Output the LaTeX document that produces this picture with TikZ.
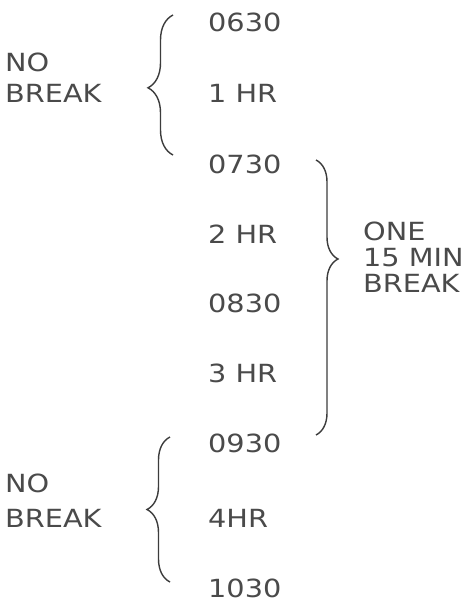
\documentclass[tikz,border=0pt]{standalone}
\usepackage{fontspec}
\setmainfont[FakeStretch=1.15]{DejaVu Sans}
\usetikzlibrary{decorations.pathreplacing}
\definecolor{txt}{HTML}{4A4A4A}
\definecolor{brc}{HTML}{3C3C3C}
\begin{document}
\begin{tikzpicture}[x=1pt,y=-1pt,
  lbl/.style={anchor=base west,inner sep=0pt,text=txt,font=\fontsize{25}{#1}\selectfont,align=left},
  lbl/.default=31,
  brc/.style={draw=brc,line width=1.4pt,decorate,decoration={brace,amplitude=#1}}]
\useasboundingbox[fill=white] (0,0) rectangle (467,605);
% time column
\node[lbl] (t0630) at (208,31) {0630};
\node[lbl] (h1) at (208,102) {1 HR};
\node[lbl] (t0730) at (208,173) {0730};
\node[lbl] (h2) at (208,243) {2 HR};
\node[lbl] (t0830) at (208,312) {0830};
\node[lbl] (h3) at (208,382) {3 HR};
\node[lbl] (t0930) at (208,452) {0930};
\node[lbl] (h4) at (208,527) {4HR};
\node[lbl] (t1030) at (208,597) {1030};
% labels (anchored at the baseline of the last line)
\node[lbl=31] (nb1) at (5,102) {NO\\BREAK};
\node[lbl=26] (one) at (363,292) {ONE\\15 MIN\\BREAK};
\node[lbl=35] (nb2) at (5,527) {NO\\BREAK};
% brace endpoints
\coordinate (b1t) at (173,15);
\coordinate (b1b) at (173,155);
\coordinate (b2t) at (316,160);
\coordinate (b2b) at (316,435);
\coordinate (b3t) at (170,437);
\coordinate (b3b) at (170,582);
\draw[brc=25pt,decoration={aspect=0.48}] (b1b) -- (b1t);
\draw[brc=22pt,decoration={aspect=0.36}] (b2t) -- (b2b);
\draw[brc=23pt,decoration={aspect=0.5}] (b3b) -- (b3t);
\end{tikzpicture}
\end{document}
